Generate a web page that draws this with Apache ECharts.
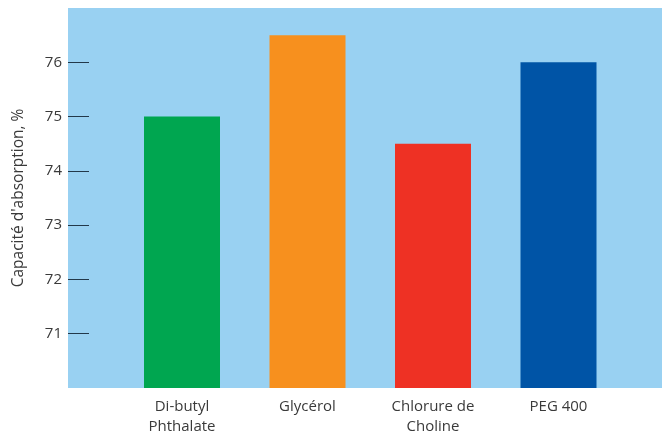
<!DOCTYPE html>
<html>
<head>
<meta charset="utf-8">
<script src="https://cdn.jsdelivr.net/npm/echarts@6/dist/echarts.min.js"></script>
<style>html,body{margin:0;padding:0;background:#fff}#c{width:662px;height:435px}</style>
</head>
<body>
<div id="c"></div>
<script>
const categories = ['Di-butyl\nPhthalate', 'Glycérol', 'Chlorure de\nCholine', 'PEG 400'];
const values = [75, 76.5, 74.5, 76];
const barColors = ['#00a650', '#f7901e', '#ee3124', '#0054a6'];
const yTicks = [71, 72, 73, 74, 75, 76];

const chart = echarts.init(document.getElementById('c'));
const font = '"Open Sans", Lato, sans-serif';
chart.setOption({
  animation: false,
  grid: [
    { left: 68, right: 0, top: 8, bottom: 47, show: true, backgroundColor: '#99d1f2', borderWidth: 0, outerBoundsMode: 'none', containLabel: false },
    { left: 119.25, right: 40.75, top: 8, bottom: 47, outerBoundsMode: 'none', containLabel: false }
  ],
  xAxis: [
    { gridIndex: 0, type: 'value', min: 0, max: 1, show: false },
    {
      gridIndex: 1, type: 'category', data: categories,
      axisLine: { show: false }, axisTick: { show: false },
      axisLabel: { color: '#3a3a3a', fontSize: 15, fontFamily: font, lineHeight: 20, margin: 9, interval: 0 }
    }
  ],
  yAxis: [
    {
      gridIndex: 0, type: 'value', min: 70, max: 77, interval: 1,
      name: "Capacité d'absorption, %", nameLocation: 'middle', nameGap: 41,
      nameTextStyle: { color: '#3a3a3a', fontSize: 15.5, fontFamily: font },
      axisLine: { show: false },
      axisTick: { show: true, inside: true, length: 21, lineStyle: { color: '#22384a', width: 1 },
        customValues: yTicks },
      axisLabel: { color: '#3a3a3a', fontSize: 15, fontFamily: font, margin: 6,
        customValues: yTicks },
      splitLine: { show: false }
    },
    { gridIndex: 1, type: 'value', min: 70, max: 77, show: false }
  ],
  series: [{
    type: 'bar', xAxisIndex: 1, yAxisIndex: 1,
    data: values.map((v, i) => ({ value: v, itemStyle: { color: barColors[i] } })),
    barWidth: 76
  }]
});
</script>
</body>
</html>
